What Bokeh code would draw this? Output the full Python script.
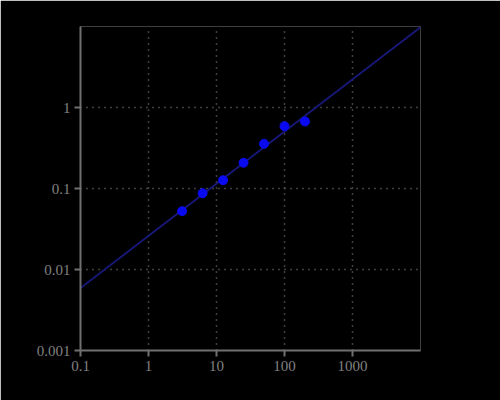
from bokeh.plotting import figure
from bokeh.models import Range1d, FixedTicker
from bokeh.embed import file_html
from bokeh.resources import INLINE

# Data
conc = [3.125, 6.25, 12.5, 25, 50, 100, 200]
response = [0.0525, 0.0875, 0.1265, 0.208, 0.356, 0.588, 0.672]
fit_x = [0.1, 10000]
fit_y = [0.0059, 9.8]

x_ticks = [0.1, 1, 10, 100, 1000]
x_labels = ["0.1", "1", "10", "100", "1000"]
y_ticks = [0.001, 0.01, 0.1, 1]
y_labels = ["0.001", "0.01", "0.1", "1"]
x_grid = [0.1, 1, 10, 100, 1000, 10000]
y_grid = [0.001, 0.01, 0.1, 1, 10]

p = figure(width=500, height=400, x_axis_type="log", y_axis_type="log",
           x_range=Range1d(0.1, 10000), y_range=Range1d(0.001, 10),
           output_backend="svg", toolbar_location=None,
           min_border_left=80, min_border_right=80, min_border_top=26, min_border_bottom=50)
p.background_fill_color = "black"
p.border_fill_color = "black"
p.outline_line_color = None

p.line(fit_x, fit_y, line_color="#18187a", line_width=2)
p.scatter(conc, response, size=9, fill_color="#0a0af0", line_color="#0a0af0")

p.xaxis.ticker = FixedTicker(ticks=x_ticks)
p.yaxis.ticker = FixedTicker(ticks=y_ticks)
p.xaxis.major_label_overrides = dict(zip(x_ticks, x_labels))
p.yaxis.major_label_overrides = dict(zip(y_ticks, y_labels))
p.xgrid.ticker = FixedTicker(ticks=x_grid)
p.ygrid.ticker = FixedTicker(ticks=y_grid)

for ax in (p.xaxis, p.yaxis):
    ax.axis_line_color = "#707070"
    ax.axis_line_width = 2
    ax.major_tick_line_color = "#707070"
    ax.major_tick_line_width = 2
    ax.major_tick_out = 6
    ax.major_tick_in = 0
    ax.minor_tick_line_color = None
    ax.major_label_text_font = "Liberation Serif"
    ax.major_label_text_font_size = "15px"
    ax.major_label_text_color = "#808080"
    ax.major_label_standoff = 4

for g in (p.xgrid, p.ygrid):
    g.grid_line_color = "#808080"
    g.grid_line_dash = "1 5"
    g.grid_line_width = 1.5

open("out.html", "w").write(file_html(p, INLINE))
